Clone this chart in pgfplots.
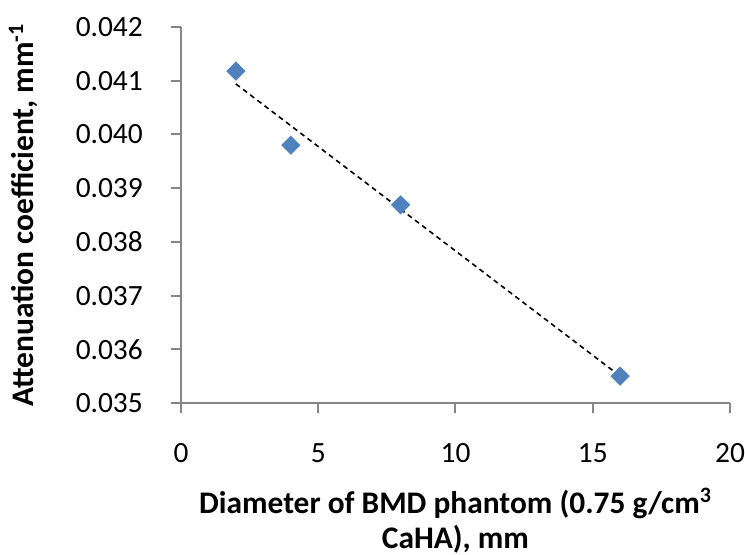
\documentclass[border=0pt]{standalone}
\usepackage{fontspec}
\setmainfont{Carlito}
\usepackage{pgfplots}
\pgfplotsset{compat=1.18}
\definecolor{axisgray}{HTML}{868686}
\definecolor{markblue}{HTML}{4F81BD}
\begin{document}
\fontsize{14.7pt}{17.5pt}\selectfont
\begin{tikzpicture}
  \useasboundingbox (-90.5pt,-75.5pt) rectangle (282pt,201.5pt);
  \begin{axis}[
      at={(0pt,0pt)}, anchor=origin,
      scale only axis,
      width=274.5pt,
      height=188pt,
      xmin=0, xmax=20,
      ymin=0.035, ymax=0.042,
      xtick={0,5,10,15,20},
      ytick={0.035,0.036,0.037,0.038,0.039,0.040,0.041,0.042},
      axis x line=bottom,
      axis y line=left,
      axis line style={axisgray, line width=1pt, -},
      tick style={axisgray, line width=1pt},
      tick align=outside,
      major tick length=5pt,
      minor tick num=0,
      /pgf/number format/assume math mode=true,
      scaled y ticks=false,
      ticklabel style={font=\fontsize{14.7pt}{17.5pt}\selectfont},
      xticklabel style={yshift=-10pt},
      yticklabel style={xshift=-9pt,
        /pgf/number format/fixed,
        /pgf/number format/fixed zerofill,
        /pgf/number format/precision=3},
      xlabel={\textbf{Diameter of BMD phantom (0.75 g/cm\textsuperscript{3}}\\\textbf{CaHA), mm}},
      xlabel style={align=center, font=\fontsize{15.7pt}{17.5pt}\selectfont, yshift=-3pt},
      ylabel={\textbf{Attenuation coefficient, mm\textsuperscript{-1}}},
      ylabel style={font=\fontsize{15.7pt}{18pt}\selectfont, yshift=9pt},
      clip=false,
  ]

  % trend line (least squares through the four points)
  \addplot[black, line width=0.8pt, dash pattern=on 2.5pt off 2pt] coordinates {
    (2, 0.04094) (16, 0.03550)
  };

  % measured points
  \addplot[only marks, mark=square*, mark size=3.2pt,
           mark options={rotate=45, fill=markblue, draw=markblue}] coordinates {
    (2, 0.04118) (4, 0.03980) (8, 0.03869) (16, 0.03550)
  };

  \end{axis}
\end{tikzpicture}
\end{document}
